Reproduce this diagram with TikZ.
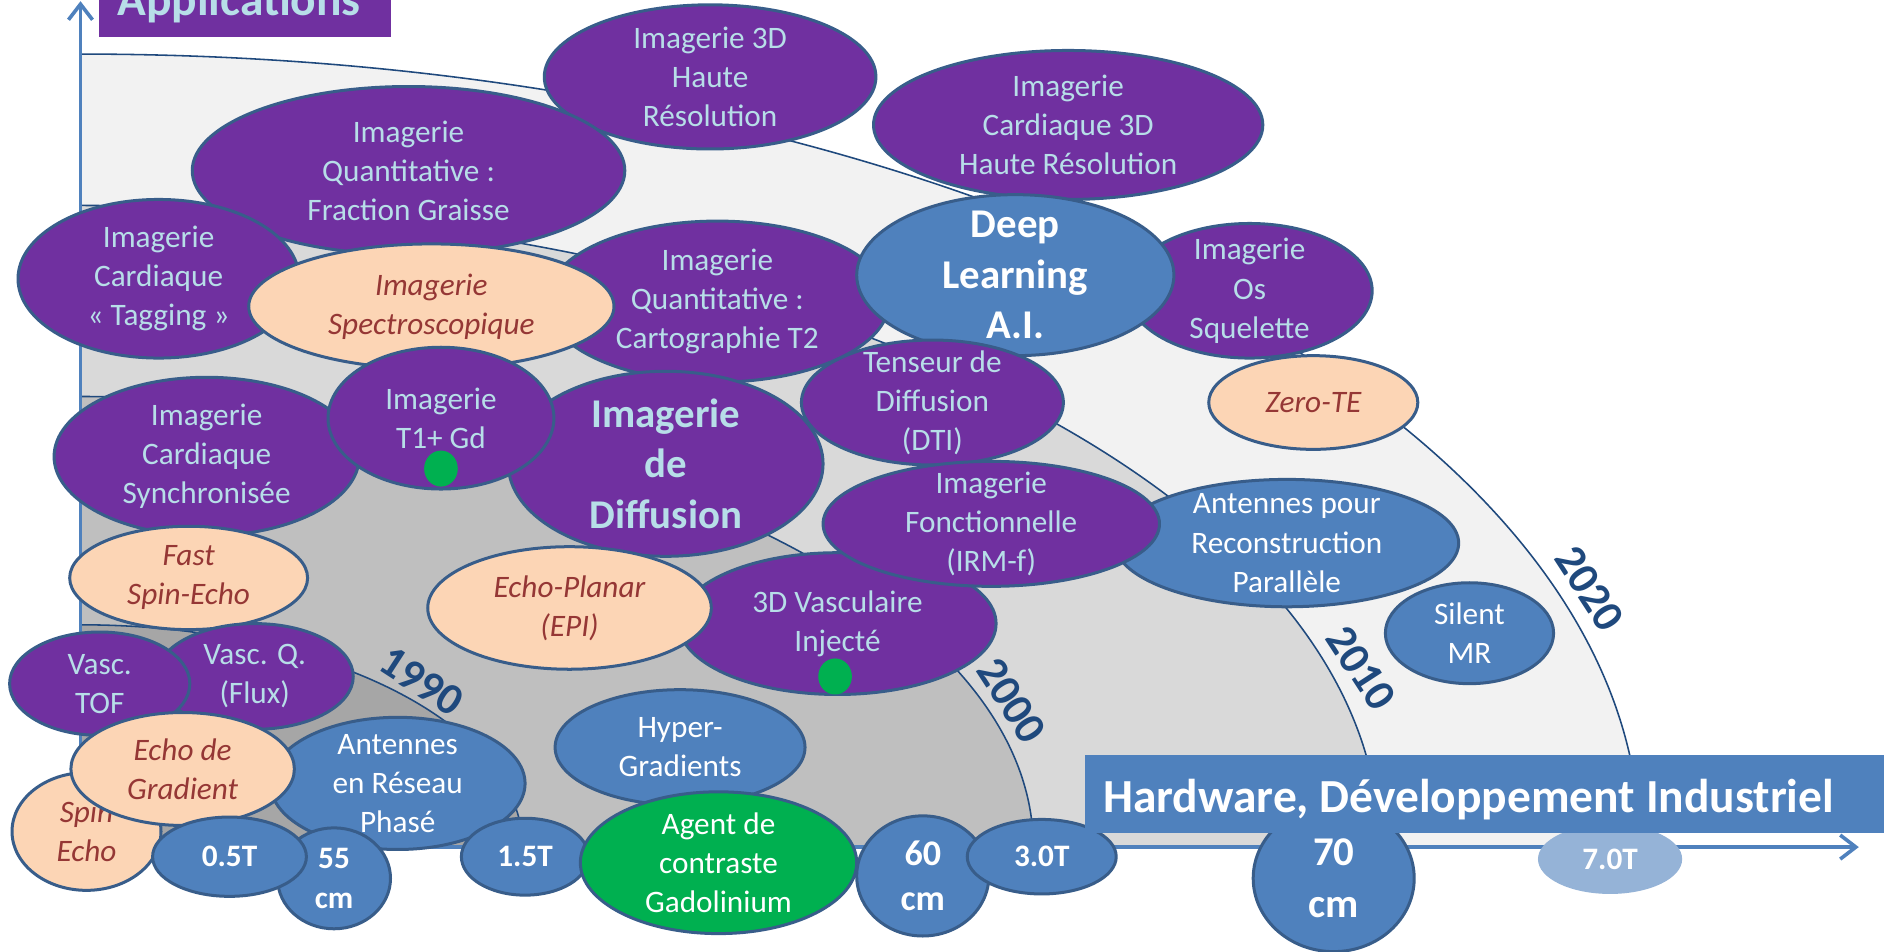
\documentclass[tikz,border=0pt]{standalone}
\usepackage{fontspec}
\setmainfont{Carlito}
\usetikzlibrary{shapes.geometric,arrows.meta}

\definecolor{appviolet}{RGB}{112,48,160}
\definecolor{apptext}{RGB}{183,222,232}
\definecolor{techpeach}{RGB}{252,213,181}
\definecolor{techtext}{RGB}{149,55,53}
\definecolor{hwblue}{RGB}{79,129,189}
\definecolor{hwpale}{RGB}{149,179,215}
\definecolor{gadgreen}{RGB}{0,176,80}
\definecolor{rimblue}{RGB}{56,93,138}
\definecolor{eranavy}{RGB}{31,73,125}
\definecolor{era2020}{RGB}{242,242,242}
\definecolor{era2010}{RGB}{217,217,217}
\definecolor{era2000}{RGB}{191,191,191}
\definecolor{era1990}{RGB}{166,166,166}

\tikzset{
  bubble/.style 2 args={ellipse,draw=rimblue,line width=2.5pt,minimum width=#1,minimum height=#2,
    inner xsep=-10pt,inner ysep=-30pt,align=center,font=\fontsize{26}{32.5}\selectfont},
  app/.style={fill=appviolet,text=apptext},
  tech/.style={fill=techpeach,text=techtext,font=\fontsize{26}{32.5}\selectfont\itshape},
  hw/.style={fill=hwblue,text=white},
  big/.style={font=\fontsize{34}{42}\selectfont\bfseries},
  field/.style={font=\fontsize{26}{33}\selectfont\bfseries},
  bore/.style={font=\fontsize{30}{37}\selectfont\bfseries},
  gad/.style={ellipse,fill=gadgreen,minimum width=28pt,minimum height=30pt,inner sep=0pt},
  year/.style={text=eranavy,font=\fontsize{37}{37}\selectfont\bfseries},
  era/.style={draw=eranavy,line width=1.3pt},
  axis/.style={draw=hwblue,line width=3pt},
  title/.style={font=\fontsize{39.5}{42}\selectfont\bfseries},
}

\begin{document}
\begin{tikzpicture}[>={Straight Barb[length=13pt,width=20pt]}]
  \useasboundingbox (0pt,0pt) rectangle (1568pt,-792pt);
  \clip (0pt,0pt) rectangle (1568pt,-792pt);
  \fill[white] (0pt,0pt) rectangle (1568pt,-792pt);

  \fill[era2020] (67pt,-45pt) arc[start angle=90,end angle=0,x radius=1298pt,y radius=660pt] -- (67pt,-705pt) -- cycle;
  \fill[era2010] (67pt,-171pt) arc[start angle=90,end angle=0,x radius=1081pt,y radius=534pt] -- (67pt,-705pt) -- cycle;
  \fill[era2000] (67pt,-330pt) arc[start angle=90,end angle=0,x radius=793pt,y radius=375pt] -- (67pt,-705pt) -- cycle;
  \fill[era1990] (67pt,-520pt) arc[start angle=90,end angle=0,x radius=368pt,y radius=185pt] -- (67pt,-705pt) -- cycle;
  \draw[era] (67pt,-45pt) arc[start angle=90,end angle=0,x radius=1298pt,y radius=660pt];
  \draw[era] (67pt,-171pt) arc[start angle=90,end angle=0,x radius=1081pt,y radius=534pt];
  \draw[era] (67pt,-330pt) arc[start angle=90,end angle=0,x radius=793pt,y radius=375pt];
  \draw[era] (67pt,-520pt) arc[start angle=90,end angle=0,x radius=368pt,y radius=185pt];

  \draw (351.0pt, -567.0pt)node[year,rotate=-33](y1990){1990};
  \draw (842.0pt, -583.0pt)node[year,rotate=-57](y2000){2000};
  \draw (1133.0pt, -556.0pt)node[year,rotate=-57](y2010){2010};
  \draw (1323.0pt, -490.0pt)node[year,rotate=-57](y2020){2020};

  \coordinate (orig) at (67pt,-705pt);
  \coordinate (ytip) at (67pt,-1pt);
  \coordinate (xtip) at (1547pt,-705pt);
  \draw[axis,->] (orig) -- (ytip);
  \draw[axis,->] (orig) -- (xtip);

  \draw (591.0pt, -64.0pt)node[bubble={276pt}{120pt},app](hr3d){Imagerie 3D\\Haute\\Résolution};
  \draw (889.0pt, -104.0pt)node[bubble={324pt}{124pt},app](card3d){Imagerie\\Cardiaque 3D\\Haute Résolution};
  \draw (1040.0pt, -242.0pt)node[bubble={204pt}{112pt},app](bone){Imagerie\\Os\\Squelette};
  \draw (340.0pt, -142.0pt)node[bubble={360pt}{140pt},app](fat){Imagerie\\Quantitative :\\Fraction Graisse};
  \draw (132.0pt, -232.0pt)node[bubble={234pt}{132pt},app](tag){Imagerie\\Cardiaque\\« Tagging »};
  \draw (597.0pt, -251.0pt)node[bubble={286pt}{134pt},app](t2map){Imagerie\\Quantitative :\\Cartographie T2};
  \draw (359.0pt, -255.0pt)node[bubble={304pt}{104pt},tech](spectro){Imagerie\\Spectroscopique};
  \draw (845.0pt, -229.0pt)node[bubble={264pt}{134pt},hw,big](dl){Deep\\Learning\\A.I.};
  \draw (1093.0pt, -335.0pt)node[bubble={174pt}{78pt},tech](zte){Zero-TE};
  \draw (172.0pt, -380.0pt)node[bubble={254pt}{132pt},app](sync){Imagerie\\Cardiaque\\Synchronisée};
  \draw (554.0pt, -386.0pt)node[bubble={262pt}{154pt},app,big](diff){Imagerie\\de\\Diffusion};
  \draw (367.0pt, -348.0pt)node[bubble={188pt}{118pt},app](t1gd){Imagerie\\T1+ Gd};
  \draw (367.0pt, -390.0pt)node[gad](gdA){};
  \draw (776.0pt, -335.0pt)node[bubble={218pt}{104pt},app](dti){Tenseur de\\Diffusion\\(DTI)};
  \draw (1071.0pt, -452.0pt)node[bubble={286pt}{106pt},hw](pmri){Antennes pour\\Reconstruction\\Parallèle};
  \draw (697.0pt, -519.0pt)node[bubble={264pt}{118pt},app](angio){3D Vasculaire\\Injecté};
  \draw (695.0pt, -563.0pt)node[gad](gdB){};
  \draw (825.0pt, -436.0pt)node[bubble={280pt}{104pt},app](fmri){Imagerie\\Fonctionnelle\\(IRM-f)};
  \draw (1223.0pt, -527.0pt)node[bubble={140pt}{84pt},hw](silent){Silent\\MR};
  \draw (157.0pt, -481.0pt)node[bubble={198pt}{86pt},tech](fse){Fast\\Spin-Echo};
  \draw (474.0pt, -506.0pt)node[bubble={236pt}{102pt},tech](epi){Echo-Planar\\(EPI)};
  \draw (212.0pt, -563.0pt)node[bubble={164pt}{88pt},app](flux){Vasc. Q.\\(Flux)};
  \draw (83.0pt, -569.0pt)node[bubble={150pt}{86pt},app](tof){Vasc.\\TOF};
  \draw (72.0pt, -692.0pt)node[bubble={124pt}{98pt},tech](se){Spin\\Echo};
  \draw (331.0pt, -652.0pt)node[bubble={212pt}{110pt},hw](array){Antennes\\en Réseau\\Phasé};
  \draw (152.0pt, -640.0pt)node[bubble={186pt}{94pt},tech](gre){Echo de\\Gradient};
  \draw (566.0pt, -622.0pt)node[bubble={208pt}{96pt},hw](grad){Hyper-\\Gradients};
  \draw (278.0pt, -731.0pt)node[bubble={94pt}{84pt},hw,field](bore55){55\\cm};
  \draw (191.0pt, -713.0pt)node[bubble={128pt}{66pt},hw,field](f05){0.5T};
  \draw (437.0pt, -713.0pt)node[bubble={106pt}{64pt},hw,field](f15){1.5T};
  \draw (598.0pt, -718.0pt)node[bubble={230pt}{118pt},fill=gadgreen,text=white](gado){Agent de\\contraste\\Gadolinium};
  \draw (768.0pt, -729.0pt)node[bubble={110pt}{100pt},hw,bore](bore60){60\\cm};
  \draw (867.0pt, -713.0pt)node[bubble={124pt}{62pt},hw,field](f30){3.0T};
  \draw (1110.0pt, -731.0pt)node[bubble={134pt}{122pt},hw,font=\fontsize{34}{43}\selectfont\bfseries](bore70){70\\cm};
  \draw (1340.0pt, -715.0pt)node[bubble={120pt}{58pt},fill=hwpale,draw=none,text=white,field](f70){7.0T};

  \draw (1250.0pt, -660.5pt)node[rectangle,fill=hwblue,minimum width=694pt,minimum height=65pt](hwbox){};
  \draw (918.0pt, -676.0pt)node[anchor=base west,inner sep=0pt,text=white,title](hwtext){Hardware, Développement Industriel};
  \draw (203.5pt, -3.0pt)node[rectangle,fill=appviolet,minimum width=243pt,minimum height=56pt](appbox){};
  \draw (199.0pt, -12.5pt)node[anchor=base,inner sep=0pt,text=apptext,title](apptitle){Applications};
\end{tikzpicture}
\end{document}
